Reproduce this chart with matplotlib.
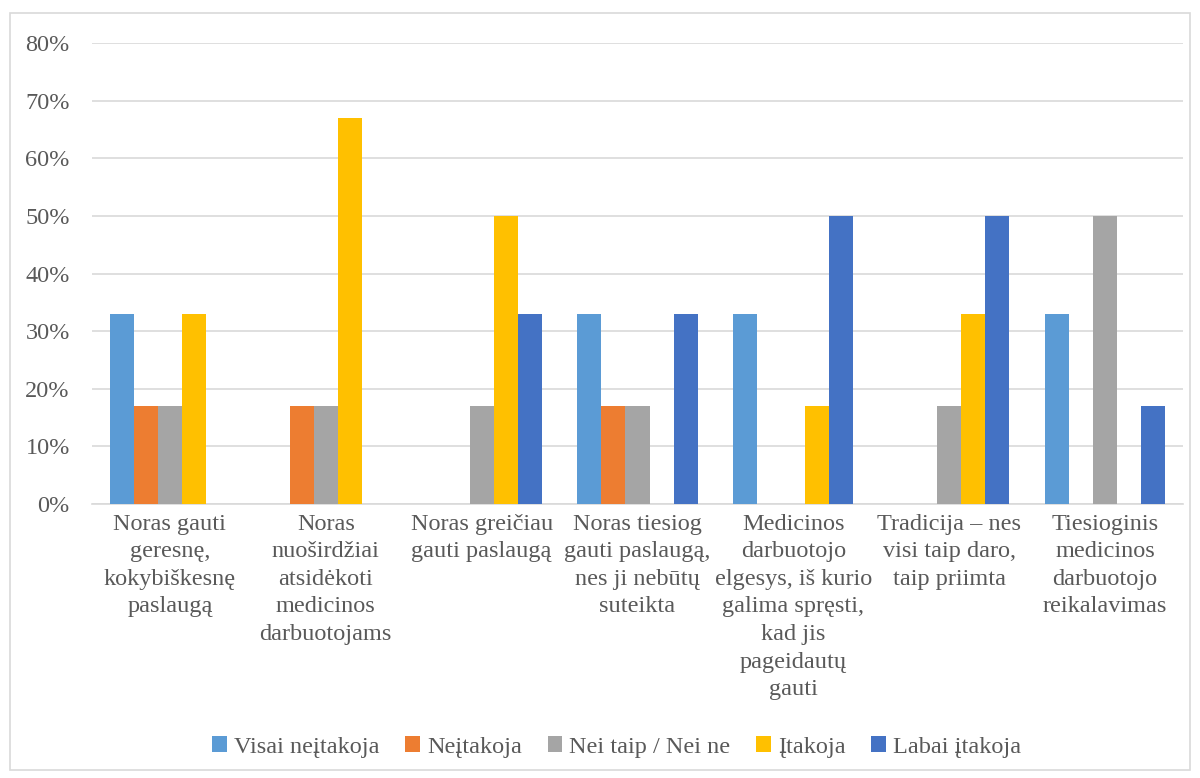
import numpy as np
import matplotlib
matplotlib.use("Agg")
import matplotlib.pyplot as plt
from matplotlib.patches import Rectangle
from matplotlib.ticker import PercentFormatter

categories = [
    "Noras gauti\ngeresnę,\nkokybiškesnę\npaslaugą",
    "Noras\nnuoširdžiai\natsidėkoti\nmedicinos\ndarbuotojams",
    "Noras greičiau\ngauti paslaugą",
    "Noras tiesiog\ngauti paslaugą,\nnes ji nebūtų\nsuteikta",
    "Medicinos\ndarbuotojo\nelgesys, iš kurio\ngalima spręsti,\nkad jis\npageidautų\ngauti",
    "Tradicija – nes\nvisi taip daro,\ntaip priimta",
    "Tiesioginis\nmedicinos\ndarbuotojo\nreikalavimas",
]
series_names = ["Visai neįtakoja", "Neįtakoja", "Nei taip / Nei ne", "Įtakoja", "Labai įtakoja"]
visai_neitakoja = [0.33, 0.00, 0.00, 0.33, 0.33, 0.00, 0.33]
neitakoja = [0.17, 0.17, 0.00, 0.17, 0.00, 0.00, 0.00]
nei_taip_nei_ne = [0.17, 0.17, 0.17, 0.17, 0.00, 0.17, 0.50]
itakoja = [0.33, 0.67, 0.50, 0.00, 0.17, 0.33, 0.00]
labai_itakoja = [0.00, 0.00, 0.33, 0.33, 0.50, 0.50, 0.17]
colors = ["#5B9BD5", "#ED7D31", "#A5A5A5", "#FFC000", "#4472C4"]

plt.rcParams["font.family"] = ["Liberation Serif", "DejaVu Serif"]
text_color = "#595959"
fsize = 17.5

fig = plt.figure(figsize=(12, 7.78), dpi=100)
ax = fig.add_axes([92 / 1200, 1 - 504 / 778, (1183 - 92) / 1200, (504 - 43) / 778])

# light frame around the whole chart
fig.patches.append(Rectangle((10 / 1200, 8 / 778), 1180 / 1200, 757 / 778,
                             transform=fig.transFigure, fill=False,
                             edgecolor="#d9d9d9", linewidth=1.2))

x = np.arange(len(categories))
width = 0.154
all_series = [visai_neitakoja, neitakoja, nei_taip_nei_ne, itakoja, labai_itakoja]
handles = []
for i, (vals, name, c) in enumerate(zip(all_series, series_names, colors)):
    b = ax.bar(x + (i - 2) * width, vals, width, color=c, label=name, zorder=3)
    handles.append(b)

ax.set_xlim(-0.5, len(categories) - 0.5)
ax.set_ylim(0, 0.8)
ax.set_yticks(np.arange(0, 0.81, 0.1))
ax.yaxis.set_major_formatter(PercentFormatter(1.0, decimals=0))
ax.grid(axis="y", color="#d9d9d9", linewidth=1.2, zorder=0)
for s in ["top", "right", "left"]:
    ax.spines[s].set_visible(False)
ax.spines["bottom"].set_color("#d9d9d9")
ax.spines["bottom"].set_linewidth(1.2)
ax.tick_params(axis="both", length=0, colors=text_color, labelsize=fsize)
ax.tick_params(axis="y", pad=16)
ax.tick_params(axis="x", pad=7)
ax.set_xticks(x)
ax.set_xticklabels(categories, linespacing=1.41)

fig.legend(handles=handles, labels=series_names, loc="center", ncol=5,
           bbox_to_anchor=(0.514, 1 - 747 / 778), frameon=False,
           handlelength=0.6, handleheight=0.6, handletextpad=0.3,
           columnspacing=1.05, fontsize=fsize, labelcolor=text_color)

fig.savefig("out.png", dpi=100)
